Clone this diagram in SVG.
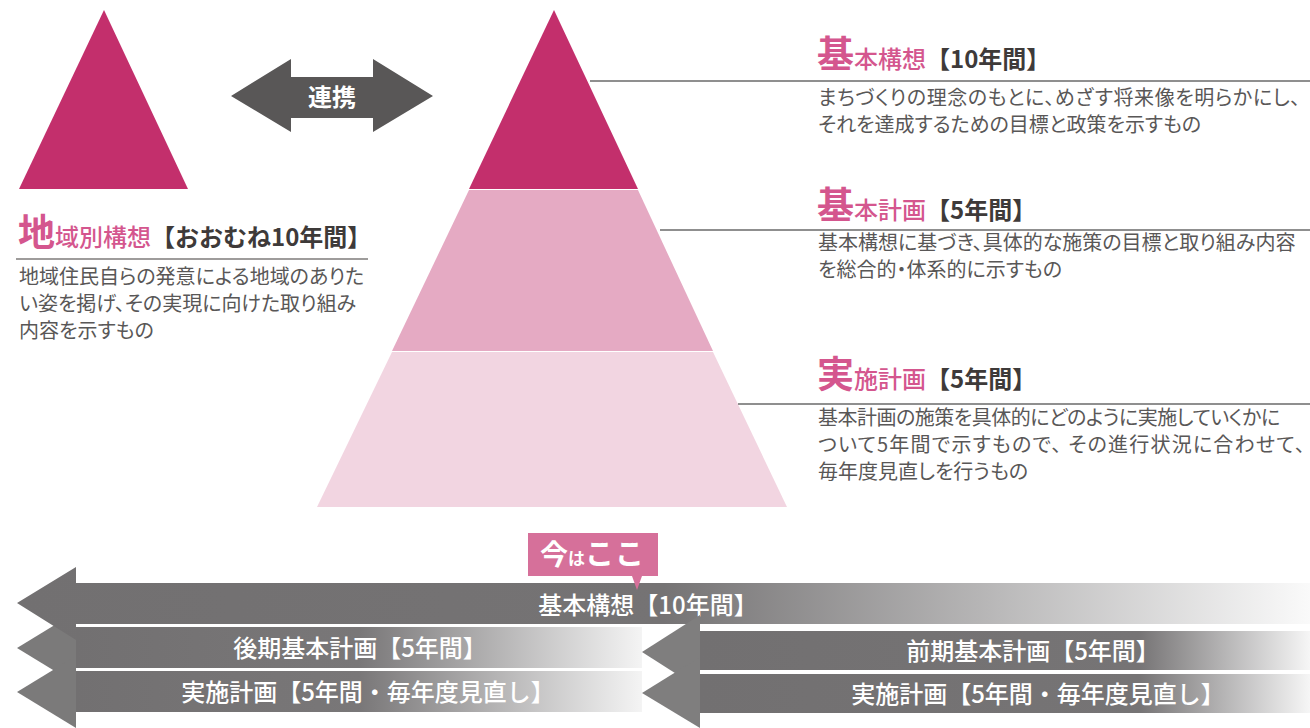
<svg xmlns="http://www.w3.org/2000/svg" width="1310" height="728" viewBox="0 0 1310 728">
<defs>
<style>
text{font-family:"Noto Sans CJK JP","Noto Sans",sans-serif;}
.body{font-size:20px;fill:#595757;font-feature-settings:"palt";}
.pk{fill:#d4568e;font-weight:500;}
.big{font-size:37px;font-weight:700;}
.mid{font-size:24px;}
.brk{fill:#3e3a39;font-weight:700;font-size:24px;}
.bar{font-size:24px;fill:#ffffff;font-weight:500;text-anchor:middle;}
.rule{stroke:#6a6a6a;stroke-width:1.6;}
</style>
<linearGradient id="gTop" gradientUnits="userSpaceOnUse" x1="17" y1="0" x2="1310" y2="0">
<stop offset="0" stop-color="#727071"/><stop offset="0.5" stop-color="#757374"/><stop offset="1" stop-color="#fafafa"/>
</linearGradient>
<linearGradient id="gLeft" gradientUnits="userSpaceOnUse" x1="76" y1="0" x2="642" y2="0">
<stop offset="0" stop-color="#727071"/><stop offset="0.5" stop-color="#797778"/><stop offset="1" stop-color="#f4f4f4"/>
</linearGradient>
<linearGradient id="gRight" gradientUnits="userSpaceOnUse" x1="700" y1="0" x2="1310" y2="0">
<stop offset="0" stop-color="#727071"/><stop offset="0.72" stop-color="#767475"/><stop offset="1" stop-color="#f6f6f6"/>
</linearGradient>
</defs>

<g id="regional-triangle">
<polygon points="104,10 188,189 19,189" fill="#c32f6c"/>
</g>

<g id="renkei">
<polygon points="231,96 291,59 291,77 373,77 373,59 433,96 373,132 373,118 291,118 291,132" fill="#595757"/>
<text x="332" y="106" font-size="24" font-weight="700" fill="#ffffff" text-anchor="middle">連携</text>
</g>

<g id="pyramid">
<polygon points="554,10 638,189 469,189" fill="#c32f6c"/>
<polygon points="469,190 638,190 713,351 392,351" fill="#e5aac3"/>
<polygon points="392,352 713,352 787,507 317,507" fill="#f2d5e1"/>
</g>

<g id="connectors">
<line class="rule" x1="590" y1="81" x2="1310" y2="81"/>
<line class="rule" x1="660" y1="230" x2="1310" y2="230"/>
<line class="rule" x1="738" y1="404" x2="1310" y2="404" stroke="#4a4848"/>
<line x1="16" y1="259" x2="368" y2="259" stroke="#3e3a39" stroke-width="1.2"/>
</g>

<g id="regional-label">
<text x="18" y="246"><tspan class="pk big">地</tspan><tspan class="pk mid">域別構想</tspan><tspan class="brk">【おおむね10年間】</tspan></text>
<text class="body" x="19" y="284">地域住民自らの発意による地域のありた</text>
<text class="body" x="19" y="311">い姿を掲げ、その実現に向けた取り組み</text>
<text class="body" x="19" y="338">内容を示すもの</text>
</g>

<g id="kihon-kousou">
<text x="817" y="68"><tspan class="pk big">基</tspan><tspan class="pk mid">本構想</tspan><tspan class="brk">【10年間】</tspan></text>
<text class="body" x="818" y="105" letter-spacing="0.6">まちづくりの理念のもとに、めざす将来像を明らかにし、</text>
<text class="body" x="818" y="132">それを達成するための目標と政策を示すもの</text>
</g>

<g id="kihon-keikaku">
<text x="817" y="219"><tspan class="pk big">基</tspan><tspan class="pk mid">本計画</tspan><tspan class="brk">【5年間】</tspan></text>
<text class="body" x="818" y="250">基本構想に基づき、具体的な施策の目標と取り組み内容</text>
<text class="body" x="818" y="277">を総合的・体系的に示すもの</text>
</g>

<g id="jisshi-keikaku">
<text x="817" y="388"><tspan class="pk big">実</tspan><tspan class="pk mid">施計画</tspan><tspan class="brk">【5年間】</tspan></text>
<text class="body" x="818" y="425" letter-spacing="-0.5">基本計画の施策を具体的にどのように実施していくかに</text>
<text class="body" x="818" y="452" letter-spacing="1.2">ついて5年間で示すもので、 その進行状況に合わせて、</text>
<text class="body" x="818" y="479">毎年度見直しを行うもの</text>
</g>

<g id="timeline-heads-left">
<polygon points="76,612 17,648 76,684" fill="#7b7a7a"/>
<polygon points="76,656 17,692 76,728" fill="#7b7a7a"/>
</g>

<g id="timeline-kousou">
<polygon points="17,603 76,567 76,583 1310,583 1310,624 76,624 76,640" fill="url(#gTop)"/>
<text class="bar" x="648" y="614">基本構想【10年間】</text>
</g>

<g id="timeline-kouki">
<rect x="76" y="627" width="566" height="41" fill="url(#gLeft)"/>
<text class="bar" x="360" y="657">後期基本計画【5年間】</text>
</g>

<g id="timeline-jisshi-left">
<rect x="76" y="671" width="566" height="41" fill="url(#gLeft)"/>
<text class="bar" x="368" y="701">実施計画【5年間・毎年度見直し】</text>
</g>

<g id="timeline-zenki">
<rect x="700" y="631" width="610" height="39" fill="url(#gRight)"/>
<polygon points="700,615 642,652 700,689" fill="#7f7e7e"/>
<text class="bar" x="1033" y="660">前期基本計画【5年間】</text>
</g>

<g id="timeline-jisshi-right">
<rect x="700" y="674" width="610" height="39" fill="url(#gRight)"/>
<polygon points="700,657 642,693 700,728" fill="#7f7e7e"/>
<text class="bar" x="1038" y="703">実施計画【5年間・毎年度見直し】</text>
</g>

<g id="now-here">
<polygon points="528,533 658,533 658,576 642,576 637,590 632,576 528,576" fill="#d6709a"/>
<text x="540" y="565" fill="#ffffff" font-weight="700"><tspan font-size="28">今</tspan><tspan font-size="17">は</tspan><tspan font-size="29" letter-spacing="1">ここ</tspan></text>
</g>
</svg>
